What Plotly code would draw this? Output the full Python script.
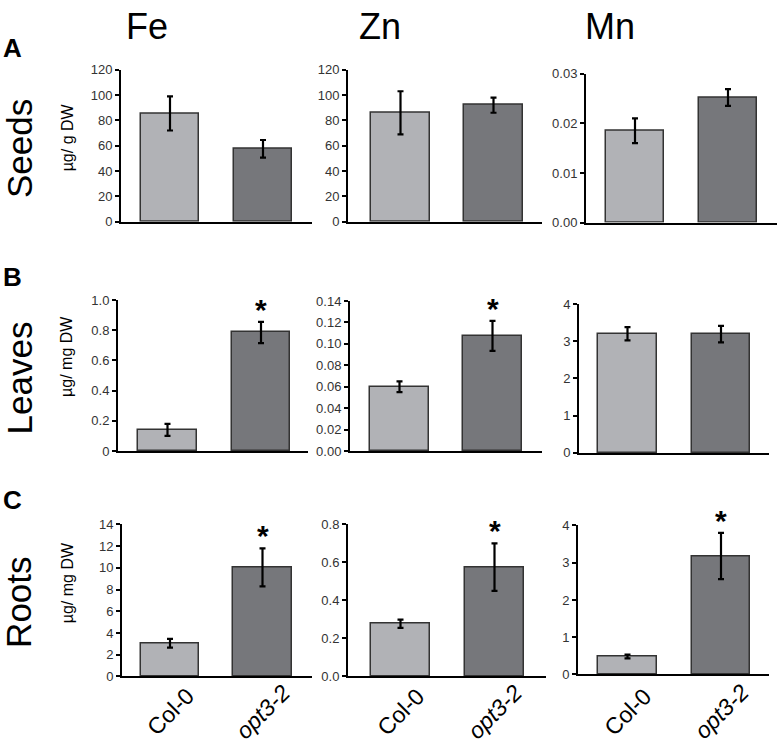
import plotly.graph_objects as go

W, H = 778, 753

genotypes = ["Col-0", "opt3-2"]
elements = ["Fe", "Zn", "Mn"]
tissues = ["Seeds", "Leaves", "Roots"]
letters = ["A", "B", "C"]
units = ["µg/ g DW", "µg/ mg DW", "µg/ mg DW"]

# means [Col-0, opt3-2] and errors
seeds_fe = [85.5, 57.5];   seeds_fe_err = [13.5, 7.0]
seeds_zn = [86.0, 92.0];   seeds_zn_err = [17.0, 6.0]
seeds_mn = [0.0185, 0.0252]; seeds_mn_err = [0.0025, 0.0017]
leaves_fe = [0.14, 0.785]; leaves_fe_err = [0.04, 0.07]
leaves_zn = [0.06, 0.1075]; leaves_zn_err = [0.005, 0.014]
leaves_mn = [3.2, 3.19];   leaves_mn_err = [0.18, 0.22]
roots_fe = [3.05, 10.05];  roots_fe_err = [0.4, 1.75]
roots_zn = [0.277, 0.575]; roots_zn_err = [0.022, 0.125]
roots_mn = [0.48, 3.18];   roots_mn_err = [0.05, 0.62]

# significance flags (opt3-2 vs Col-0)
signif = [[False, False, False], [True, True, False], [True, True, True]]

# tick values / labels per panel
ticks_seeds_fe = [0, 20, 40, 60, 80, 100, 120]
ticks_seeds_zn = [0, 20, 40, 60, 80, 100, 120]
ticks_seeds_mn = [0, 0.01, 0.02, 0.03]
labels_seeds_mn = ["0.00", "0.01", "0.02", "0.03"]
ticks_leaves_fe = [0, 0.2, 0.4, 0.6, 0.8, 1.0]
labels_leaves_fe = ["0", "0.2", "0.4", "0.6", "0.8", "1.0"]
ticks_leaves_zn = [0, 0.02, 0.04, 0.06, 0.08, 0.10, 0.12, 0.14]
labels_leaves_zn = ["0.00", "0.02", "0.04", "0.06", "0.08", "0.10", "0.12", "0.14"]
ticks_leaves_mn = [0, 1, 2, 3, 4]
ticks_roots_fe = [0, 2, 4, 6, 8, 10, 12, 14]
ticks_roots_zn = [0, 0.2, 0.4, 0.6, 0.8]
labels_roots_zn = ["0.0", "0.2", "0.4", "0.6", "0.8"]
ticks_roots_mn = [0, 1, 2, 3, 4]

data = [
    [(seeds_fe, seeds_fe_err, ticks_seeds_fe, [str(t) for t in ticks_seeds_fe]),
     (seeds_zn, seeds_zn_err, ticks_seeds_zn, [str(t) for t in ticks_seeds_zn]),
     (seeds_mn, seeds_mn_err, ticks_seeds_mn, labels_seeds_mn)],
    [(leaves_fe, leaves_fe_err, ticks_leaves_fe, labels_leaves_fe),
     (leaves_zn, leaves_zn_err, ticks_leaves_zn, labels_leaves_zn),
     (leaves_mn, leaves_mn_err, ticks_leaves_mn, [str(t) for t in ticks_leaves_mn])],
    [(roots_fe, roots_fe_err, ticks_roots_fe, [str(t) for t in ticks_roots_fe]),
     (roots_zn, roots_zn_err, ticks_roots_zn, labels_roots_zn),
     (roots_mn, roots_mn_err, ticks_roots_mn, [str(t) for t in ticks_roots_mn])],
]

# layout geometry (pixels): axis left/right, bar centers, y top/bottom
panel_x = [
    [(121, 312, 170, 263), (348, 542, 400.5, 493.5), (586, 777, 635, 728)],
    [(118, 308, 167.5, 261), (350, 542, 399.5, 492.5), (579, 769, 627.5, 721)],
    [(122, 312, 170, 262.5), (348, 546, 400.5, 494.5), (578, 769, 627.5, 721)],
]
panel_y = [
    [(64, 219), (64, 219), (68, 220)],
    [(299, 453), (300, 453), (303, 455)],
    [(528, 683), (528, 683), (529, 681)],
]

col_colors = ["#b1b2b6", "#76777b"]
font = "Liberation Sans, Arial, sans-serif"

fig = go.Figure()
annotations = []
layout = {}
k = 0
for r in range(3):
    for c in range(3):
        k += 1
        vals, errs, tv, tt = data[r][c]
        xl, xr, c1, c2 = panel_x[r][c]
        yt, yb = panel_y[r][c]
        sp = c2 - c1
        xrng = [-(c1 - xl) / sp, 1 + (xr - c2) / sp]
        bw = 58.5 / sp
        xa = "x" if k == 1 else f"x{k}"
        ya = "y" if k == 1 else f"y{k}"
        fig.add_trace(go.Bar(
            x=[0, 1], y=vals, width=[bw, bw],
            marker=dict(color=col_colors, line=dict(color="#333333", width=1.5)),
            error_y=dict(type="data", array=errs, visible=True,
                         color="black", thickness=2.2, width=3),
            xaxis=xa, yaxis=ya, showlegend=False,
        ))
        layout[f"xaxis{'' if k == 1 else k}"] = dict(
            domain=[xl / W, xr / W], range=xrng, anchor=ya,
            showline=True, linecolor="black", linewidth=2,
            showticklabels=False, ticks="", showgrid=False, zeroline=False,
            fixedrange=True,
        )
        layout[f"yaxis{'' if k == 1 else k}"] = dict(
            domain=[1 - yb / H, 1 - yt / H], range=[0, tv[-1]], anchor=xa,
            showline=True, linecolor="black", linewidth=2,
            ticks="outside", ticklen=4, tickwidth=1.5, tickcolor="black",
            tickvals=tv, ticktext=tt, showgrid=False, zeroline=False,
            tickfont=dict(family=font, size=13, color="#333333"),
            fixedrange=True,
        )
        if signif[r][c]:
            annotations.append(dict(
                x=1, y=vals[1] + errs[1], xref=xa, yref=ya,
                text="<b>*</b>", showarrow=False, yanchor="bottom",
                yshift=-6, font=dict(family=font, size=30, color="black"),
            ))
        if r == 2:
            for i, g in enumerate(genotypes):
                txt = g if i == 0 else f"<i>{g}</i>"
                annotations.append(dict(
                    x=i, y=1 - 719 / H, xref=xa, yref="paper",
                    text=txt, showarrow=False, textangle=-45,
                    xanchor="center", yanchor="middle",
                    font=dict(family=font, size=23, color="black"),
                ))

# column titles
title_x = [147, 380, 610]
for c, e in enumerate(elements):
    annotations.append(dict(
        x=title_x[c] / W, y=1 - 20 / H, xref="paper", yref="paper",
        text=e, showarrow=False, xanchor="center", yanchor="middle",
        font=dict(family=font, size=36, color="black"),
    ))

# row labels, letters and unit titles
row_y = [145, 379, 608]
letter_y = [42, 275, 503]
unit_y = [133, 357, 588]
for r in range(3):
    annotations.append(dict(
        x=19 / W, y=1 - row_y[r] / H, xref="paper", yref="paper",
        text=tissues[r], showarrow=False, textangle=-90,
        xanchor="center", yanchor="middle",
        font=dict(family=font, size=35, color="black"),
    ))
    annotations.append(dict(
        x=13 / W, y=1 - letter_y[r] / H, xref="paper", yref="paper",
        text=f"<b>{letters[r]}</b>", showarrow=False,
        xanchor="center", yanchor="middle",
        font=dict(family=font, size=26, color="black"),
    ))
    annotations.append(dict(
        x=67 / W, y=1 - unit_y[r] / H, xref="paper", yref="paper",
        text=units[r], showarrow=False, textangle=-90,
        xanchor="center", yanchor="middle",
        font=dict(family=font, size=16, color="black"),
    ))

fig.update_layout(
    width=W, height=H, margin=dict(l=0, r=0, t=0, b=0),
    paper_bgcolor="white", plot_bgcolor="white",
    annotations=annotations, bargap=0, **layout,
)
fig.write_html(
    "out.html",
    config={"displayModeBar": False},
    post_script="document.body.style.margin='0';document.body.style.overflow='hidden';",
)
